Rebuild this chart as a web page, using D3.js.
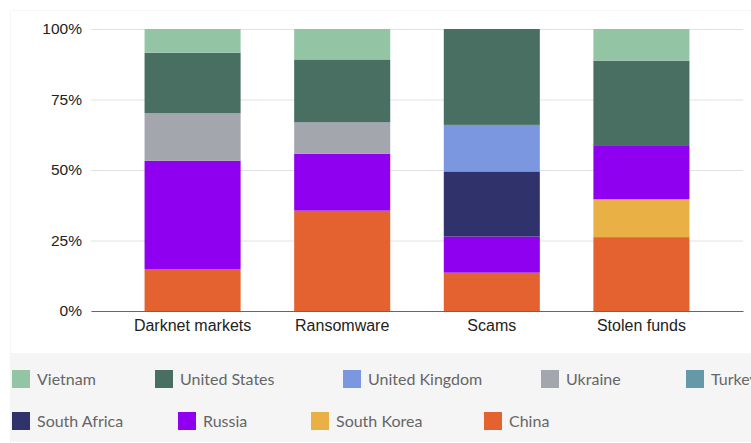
<!DOCTYPE html>
<html>
<head>
<meta charset="utf-8">
<script src="https://d3js.org/d3.v7.min.js"></script>
<style>
  body { margin: 0; background: #fff; }
  svg { display: block; }
</style>
</head>
<body>
<div id="chart"></div>
<script>
// categories (x) and countries (stack order, bottom to top)
const categories = ["Darknet markets", "Ransomware", "Scams", "Stolen funds"];
const countries = ["China", "South Korea", "Russia", "South Africa", "Turkey", "Ukraine", "United Kingdom", "United States", "Vietnam"];
const colors = ["#e3622f", "#e9b046", "#9000f0", "#30336b", "#6599a8", "#a3a6ad", "#7b97e0", "#486f62", "#93c5a5"];

// share (%) per country, one value per category
const china        = [14.9, 35.6, 13.6, 26.2];
const southKorea   = [0, 0, 0, 13.4];
const russia       = [38.4, 20.2, 12.8, 19.2];
const southAfrica  = [0, 0, 23.1, 0];
const turkey       = [0, 0, 0, 0];
const ukraine      = [16.8, 11.1, 0, 0];
const unitedKingdom= [0, 0, 16.5, 0];
const unitedStates = [21.5, 22.3, 34.0, 30.0];
const vietnam      = [8.4, 10.8, 0, 11.2];

const yTicks = [0, 25, 50, 75, 100];
const legendOrder = ["Vietnam", "United States", "United Kingdom", "Ukraine", "Turkey", "South Africa", "Russia", "South Korea", "China"];

const seriesValues = [china, southKorea, russia, southAfrica, turkey, ukraine, unitedKingdom, unitedStates, vietnam];
const table = categories.map((c, i) => {
  const row = { category: c };
  countries.forEach((k, j) => row[k] = seriesValues[j][i]);
  return row;
});

const W = 751, H = 443;
const plotTop = 29, plotBottom = 311, plotLeft = 91, plotRight = 743;

const svg = d3.select("#chart").append("svg")
  .attr("width", W).attr("height", H);

// card + legend band
svg.append("rect").attr("x", 10.5).attr("y", 10.5).attr("width", W).attr("height", H)
  .attr("fill", "#fff").attr("stroke", "#f6f6f6");
svg.append("rect").attr("x", 10).attr("y", 353).attr("width", W - 10).attr("height", 89)
  .attr("fill", "#f5f5f5");

const x = d3.scaleBand().domain(categories).range([plotLeft, plotRight]).padding(0.358);
const y = d3.scaleLinear().domain([0, 100]).range([plotBottom, plotTop]);
const color = d3.scaleOrdinal().domain(countries).range(colors);

// gridlines + y labels
const yAxis = svg.append("g")
  .attr("transform", `translate(${plotLeft},0)`)
  .call(d3.axisLeft(y).tickValues(yTicks).tickSize(-(plotRight - plotLeft)).tickFormat(d => d + "%"));
yAxis.select(".domain").remove();
yAxis.selectAll(".tick line").attr("stroke", "#e2e2e2");
yAxis.selectAll(".tick text")
  .attr("x", -9)
  .style("font-family", "'Liberation Sans', Arial, sans-serif")
  .style("font-size", "15.5px")
  .attr("fill", "#222");

const stack = d3.stack().keys(countries);
const layers = stack(table);

svg.append("g").selectAll("g")
  .data(layers)
  .join("g")
  .attr("fill", d => color(d.key))
  .selectAll("rect")
  .data(d => d)
  .join("rect")
  .attr("x", d => x(d.data.category))
  .attr("width", x.bandwidth())
  .attr("y", d => y(d[1]))
  .attr("height", d => y(d[0]) - y(d[1]));

// x axis
const xAxis = svg.append("g")
  .attr("transform", `translate(0,${plotBottom})`)
  .call(d3.axisBottom(x).tickSize(0).tickPadding(9));
xAxis.select(".domain").attr("stroke", "#666").attr("stroke-width", 1.2);
xAxis.selectAll(".tick text")
  .style("font-family", "'Liberation Sans', Arial, sans-serif")
  .style("font-size", "16px")
  .attr("fill", "#222");

// legend
const legendX = [12, 155, 343, 541, 686, 12, 178, 311, 484];
const legend = svg.append("g").selectAll("g")
  .data(legendOrder)
  .join("g")
  .attr("transform", (d, i) => `translate(${legendX[i]},${i < 5 ? 370 : 412})`);
legend.append("rect")
  .attr("width", 18).attr("height", 18)
  .attr("fill", d => color(d));
legend.append("text")
  .attr("x", 25).attr("y", 14.5)
  .style("font-family", "Lato, 'Noto Sans', sans-serif")
  .style("font-size", "16px")
  .attr("fill", "#666")
  .text(d => d);
</script>
</body>
</html>
